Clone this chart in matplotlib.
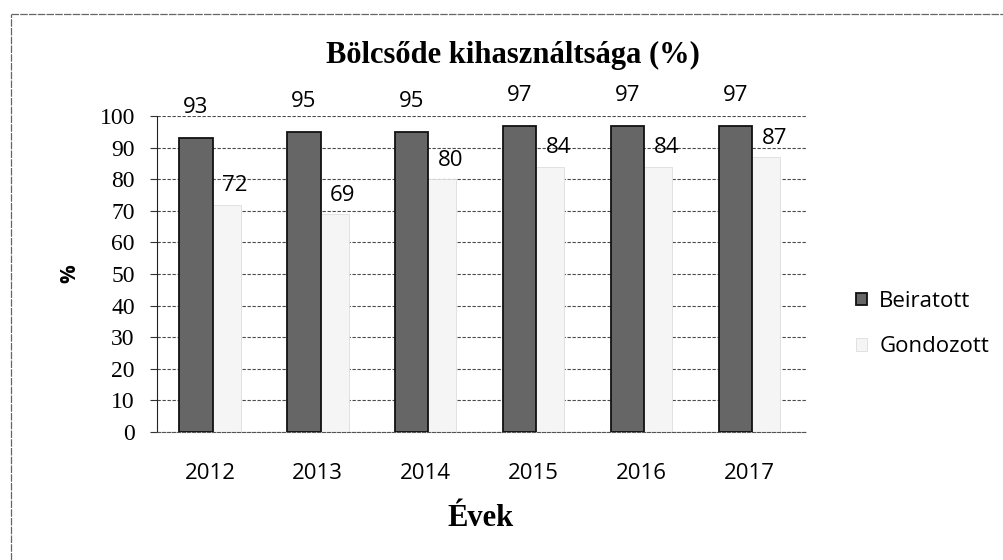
import matplotlib.pyplot as plt
import numpy as np
from matplotlib.lines import Line2D

years = ["2012", "2013", "2014", "2015", "2016", "2017"]
beiratott = [93, 95, 95, 97, 97, 97]
gondozott = [72, 69, 80, 84, 84, 87]

plt.rcParams["font.family"] = ["Open Sans", "DejaVu Sans"]

fig = plt.figure(figsize=(10.04, 5.6), dpi=100)
ax = fig.add_axes([0.1564, 0.2286, 0.647, 0.564])

x = np.arange(len(years))

ax.bar(x - 0.13, beiratott, 0.31, color="#666666", edgecolor="#111111", linewidth=1.3,
       label="Beiratott", zorder=3)
ax.bar(x + 0.15, gondozott, 0.27, color="#f5f5f5", edgecolor="#dddddd", linewidth=0.6,
       label="Gondozott", zorder=2)

for i in range(len(years)):
    ax.text(x[i] - 0.13, beiratott[i] + 9.6, str(beiratott[i]), ha="center", va="center",
            fontsize=16, clip_on=False, zorder=4)
    ax.text(x[i] + 0.23, gondozott[i] + 6, str(gondozott[i]), ha="center", va="center",
            fontsize=16, zorder=4)

ax.set_ylim(0, 100)
ax.set_xlim(-0.49, 5.53)
ax.set_yticks(range(0, 101, 10))
ax.set_xticks(x)
ax.set_xticklabels(years, fontsize=16)
ax.set_yticklabels([str(v) for v in range(0, 101, 10)], fontsize=17,
                   family="Liberation Serif")
ax.tick_params(axis="x", length=0, pad=22)
ax.tick_params(axis="y", length=5, color="#333333", direction="out", pad=11)

ax.yaxis.grid(True, color="#4a4a4a", linestyle=(0, (3, 1.5)), linewidth=0.8, zorder=0)
for s in ["top", "right"]:
    ax.spines[s].set_visible(False)
ax.spines["left"].set_color("#222222")
ax.spines["bottom"].set_color("#555555")
ax.spines["bottom"].set_linestyle((0, (3, 1.5)))

ax.set_ylabel("%", fontsize=15, fontweight="bold", labelpad=14)
fig.text(481 / 1004, 1 - 518 / 560, "Évek", fontsize=22, fontweight="bold",
         family="Liberation Serif", ha="center", va="center")
fig.text(513 / 1004, 1 - 55 / 560, "Bölcsőde kihasználtsága (%)", fontsize=22,
         fontweight="bold", family="Liberation Serif", ha="center", va="center")

ax.legend(loc="center left", bbox_to_anchor=(856 / 1004, 1 - 324 / 560),
          bbox_transform=fig.transFigure, frameon=False, fontsize=16,
          borderpad=0, borderaxespad=0, handlelength=0.5, handleheight=0.5,
          handletextpad=0.55, labelspacing=1.1)

# scanned page frame: only top and left edges show
fig.lines.append(Line2D([11 / 1004, 1.0], [1 - 14 / 560, 1 - 14 / 560],
                        transform=fig.transFigure, color="#666666", linewidth=0.9,
                        linestyle=(0, (6, 1))))
fig.lines.append(Line2D([11 / 1004, 11 / 1004], [0.0, 1 - 14 / 560],
                        transform=fig.transFigure, color="#666666", linewidth=0.9,
                        linestyle=(0, (6, 1))))

fig.savefig("out.png", dpi=100)
